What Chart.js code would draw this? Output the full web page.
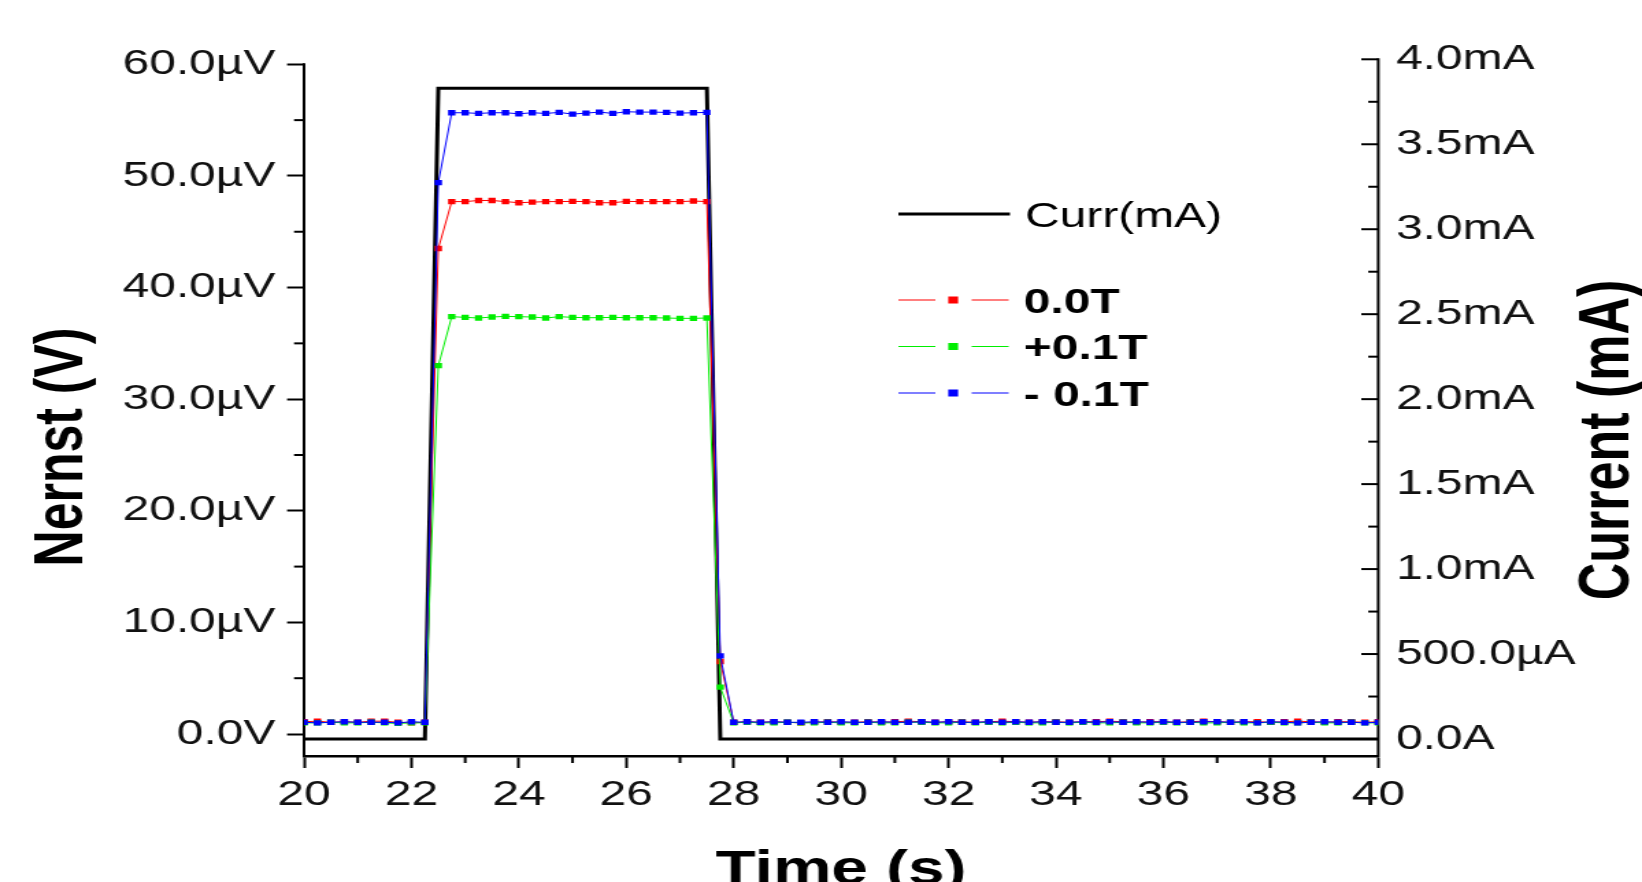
<!DOCTYPE html>
<html>
<head>
<meta charset="utf-8">
<title>Nernst signal vs. time</title>
<script src="https://cdn.jsdelivr.net/npm/chart.js@4.4.1/dist/chart.umd.min.js"></script>
<style>
  html, body { margin: 0; padding: 0; background: #fff; overflow: hidden; }
  /* the plot is laid out on a 1199px-wide canvas and widened to the full page */
  #stage { position: absolute; left: 0; top: 0; width: 1199px; height: 882px;
           transform: scaleX(1.36947); transform-origin: 0 0; }
</style>
</head>
<body>
<div id="stage"><canvas id="chart" width="1199" height="882"></canvas></div>
<script>
// ---- sampling times (s) ----
const time = [
  20, 20.25, 20.5, 20.75, 21, 21.25, 21.5, 21.75, 22, 22.25,
  22.5, 22.75, 23, 23.25, 23.5, 23.75, 24, 24.25, 24.5, 24.75,
  25, 25.25, 25.5, 25.75, 26, 26.25, 26.5, 26.75, 27, 27.25,
  27.5, 27.75, 28, 28.25, 28.5, 28.75, 29, 29.25, 29.5, 29.75,
  30, 30.25, 30.5, 30.75, 31, 31.25, 31.5, 31.75, 32, 32.25,
  32.5, 32.75, 33, 33.25, 33.5, 33.75, 34, 34.25, 34.5, 34.75,
  35, 35.25, 35.5, 35.75, 36, 36.25, 36.5, 36.75, 37, 37.25,
  37.5, 37.75, 38, 38.25, 38.5, 38.75, 39, 39.25, 39.5, 39.75,
  40
];

// ---- heater current (mA) ----
const currentMA = [
  0, 0, 0, 0, 0, 0, 0, 0, 0, 0,
  3.83, 3.83, 3.83, 3.83, 3.83, 3.83, 3.83, 3.83, 3.83, 3.83,
  3.83, 3.83, 3.83, 3.83, 3.83, 3.83, 3.83, 3.83, 3.83, 3.83,
  3.83, 0, 0, 0, 0, 0, 0, 0, 0, 0,
  0, 0, 0, 0, 0, 0, 0, 0, 0, 0,
  0, 0, 0, 0, 0, 0, 0, 0, 0, 0,
  0, 0, 0, 0, 0, 0, 0, 0, 0, 0,
  0, 0, 0, 0, 0, 0, 0, 0, 0, 0,
  0
];

// ---- Nernst voltage (µV) at 0.0 T ----
const nernst00T = [
  1.1, 1.15, 1.05, 1.1, 1.05, 1.15, 1.15, 1.05, 1.0, 1.05,
  43.5, 47.7, 47.7, 47.8, 47.8, 47.7, 47.6, 47.65, 47.7, 47.7,
  47.72, 47.7, 47.6, 47.6, 47.72, 47.7, 47.7, 47.7, 47.7, 47.75,
  47.7, 6.5, 1.05, 1.1, 1.05, 1.1, 1.05, 1.0, 1.05, 1.1,
  1.05, 1.05, 1.1, 1.05, 1.1, 1.15, 1.1, 1.05, 1.1, 1.1,
  1.05, 1.1, 1.15, 1.1, 1.05, 1.1, 1.1, 1.05, 1.1, 1.1,
  1.15, 1.1, 1.05, 1.1, 1.1, 1.05, 1.1, 1.15, 1.1, 1.05,
  1.1, 1.1, 1.05, 1.1, 1.15, 1.1, 1.05, 1.1, 1.1, 1.05,
  1.1
];

// ---- Nernst voltage (µV) at +0.1 T ----
const nernstPlus01T = [
  1.0, 1.0, 1.05, 1.0, 1.0, 1.05, 1.0, 0.95, 1.0, 1.0,
  33.0, 37.39, 37.33, 37.27, 37.36, 37.42, 37.39, 37.36, 37.27, 37.39,
  37.33, 37.3, 37.3, 37.33, 37.3, 37.3, 37.3, 37.27, 37.24, 37.24,
  37.27, 4.2, 1.0, 1.05, 1.0, 1.0, 1.05, 1.0, 1.0, 1.05,
  1.0, 1.0, 1.05, 1.0, 1.0, 1.05, 1.05, 1.0, 1.0, 1.05,
  1.0, 1.05, 1.0, 1.05, 1.0, 1.0, 1.05, 1.0, 1.05, 1.0,
  1.0, 1.05, 1.0, 1.0, 1.05, 1.0, 1.05, 1.0, 1.0, 1.05,
  1.0, 1.0, 1.05, 1.0, 1.0, 1.05, 1.0, 1.0, 1.05, 1.0,
  1.0
];

// ---- Nernst voltage (µV) at -0.1 T ----
const nernstMinus01T = [
  1.05, 1.0, 1.05, 1.1, 1.05, 1.05, 1.05, 1.0, 1.1, 1.05,
  49.4, 55.66, 55.66, 55.6, 55.66, 55.66, 55.57, 55.66, 55.6, 55.69,
  55.54, 55.63, 55.72, 55.6, 55.75, 55.72, 55.72, 55.69, 55.63, 55.66,
  55.69, 7.0, 1.05, 1.1, 1.05, 1.1, 1.05, 1.05, 1.1, 1.05,
  1.1, 1.05, 1.05, 1.1, 1.05, 1.05, 1.1, 1.05, 1.1, 1.05,
  1.05, 1.1, 1.05, 1.1, 1.05, 1.1, 1.05, 1.05, 1.1, 1.05,
  1.1, 1.05, 1.1, 1.05, 1.1, 1.05, 1.05, 1.1, 1.1, 1.05,
  1.1, 1.0, 1.1, 1.05, 1.0, 1.05, 1.1, 1.05, 1.05, 1.0,
  1.05
];

// ---- axis ticks and labels ----
const timeTicks = [20, 22, 24, 26, 28, 30, 32, 34, 36, 38, 40];
const timeLabels = ['20', '22', '24', '26', '28', '30', '32', '34', '36', '38', '40'];
const timeMinor = [21, 23, 25, 27, 29, 31, 33, 35, 37, 39];

const nernstTicks = [0, 10, 20, 30, 40, 50, 60];
const nernstLabels = ['0.0V', '10.0µV', '20.0µV', '30.0µV', '40.0µV', '50.0µV', '60.0µV'];
const nernstMinor = [5, 15, 25, 35, 45, 55];

const currentTicks = [0, 0.5, 1.0, 1.5, 2.0, 2.5, 3.0, 3.5, 4.0];
const currentLabels = ['0.0A', '500.0µA', '1.0mA', '1.5mA', '2.0mA', '2.5mA', '3.0mA', '3.5mA', '4.0mA'];
const currentMinor = [0.25, 0.75, 1.25, 1.75, 2.25, 2.75, 3.25, 3.75];

const seriesNames = ['Curr(mA)', '0.0T', '+0.1T', '- 0.1T'];

// ---------------------------------------------------------------
const FONT = "'Liberation Sans', Arial, Helvetica, sans-serif";

const toXY = (ys) => ys.map((y, i) => ({ x: time[i], y }));

function fixedTicks(values) {
  return (scale) => { scale.ticks = values.map((v) => ({ value: v })); };
}

// axis lines, minor ticks, inward ticks of the current axis, titles and the key
const frame = {
  id: 'frame',
  beforeDatasetsDraw(chart) {
    const { ctx, chartArea: a, scales } = chart;
    const x = scales.x, yN = scales.yN, yI = scales.yI;
    const seg = (x1, y1, x2, y2) => { ctx.beginPath(); ctx.moveTo(x1, y1); ctx.lineTo(x2, y2); ctx.stroke(); };
    ctx.save();
    ctx.strokeStyle = '#000';
    ctx.lineCap = 'butt';

    // Nernst axis
    ctx.lineWidth = 2;
    seg(a.left, yN.getPixelForValue(nernstTicks[nernstTicks.length - 1]) - 1, a.left, a.bottom + 1);
    for (const v of nernstMinor) {
      const py = yN.getPixelForValue(v);
      seg(a.left - 7.3, py, a.left, py);
    }

    // current axis (ticks point into the plot)
    seg(a.right, yI.getPixelForValue(currentTicks[currentTicks.length - 1]) - 1, a.right, a.bottom + 1);
    for (const v of currentTicks) {
      const py = yI.getPixelForValue(v);
      seg(a.right - 12.4, py, a.right, py);
    }
    for (const v of currentMinor) {
      const py = yI.getPixelForValue(v);
      seg(a.right - 7.3, py, a.right, py);
    }

    // time axis minor ticks
    for (const v of timeMinor) {
      const px = x.getPixelForValue(v);
      seg(px, a.bottom, px, a.bottom + 7);
    }
    ctx.restore();
  },
  afterDraw(chart) {
    const { ctx, chartArea: a, data } = chart;
    ctx.save();
    ctx.fillStyle = '#000';

    // axis titles
    ctx.font = `bold 48px ${FONT}`;
    ctx.textAlign = 'center';
    ctx.textBaseline = 'alphabetic';
    ctx.fillText('Time (s)', (a.left + a.right) / 2, 884);

    ctx.textBaseline = 'middle';
    ctx.font = `bold 50px ${FONT}`;
    ctx.save();
    ctx.translate(46.5, 447);
    ctx.rotate(-Math.PI / 2);
    ctx.fillText('Nernst (V)', 0, 0);
    ctx.restore();
    ctx.font = `bold 52px ${FONT}`;
    ctx.save();
    ctx.translate(1175, 440);
    ctx.rotate(-Math.PI / 2);
    ctx.fillText('Current (mA)', 0, 0);
    ctx.restore();

    // key
    ctx.textAlign = 'left';
    const ds = data.datasets;
    const cur = ds[0];
    ctx.strokeStyle = cur.borderColor;
    ctx.lineWidth = 3;
    ctx.beginPath(); ctx.moveTo(656, 214); ctx.lineTo(737.5, 214); ctx.stroke();
    ctx.font = `35px ${FONT}`;
    ctx.fillText(cur.label, 748.5, 217);

    const rows = [300, 346.5, 393];
    ctx.font = `bold 35px ${FONT}`;
    for (let i = 1; i < ds.length; i++) {
      const d = ds[i], y = rows[i - 1];
      ctx.strokeStyle = d.borderColor;
      ctx.lineWidth = 1.2;
      ctx.beginPath();
      ctx.moveTo(656, y); ctx.lineTo(683, y);
      ctx.moveTo(709.5, y); ctx.lineTo(736.5, y);
      ctx.stroke();
      ctx.fillStyle = d.pointBackgroundColor;
      ctx.fillRect(696 - 3.6, y - 3.5, 7.2, 7);
      ctx.fillStyle = '#000';
      ctx.fillText(d.label, 747.5, y + 3);
    }
    ctx.restore();
  }
};

const nernstSet = (label, values, color, order) => ({
  label,
  data: toXY(values),
  yAxisID: 'yN',
  borderColor: color,
  backgroundColor: color,
  borderWidth: 1,
  pointStyle: 'rect',
  pointRadius: 3.8,
  pointBorderWidth: 0,
  pointBackgroundColor: color,
  tension: 0,
  order
});

new Chart(document.getElementById('chart'), {
  type: 'line',
  data: {
    datasets: [
      {
        label: seriesNames[0],
        data: toXY(currentMA),
        yAxisID: 'yI',
        borderColor: '#000000',
        backgroundColor: '#000000',
        borderWidth: 3,
        pointRadius: 0,
        tension: 0,
        order: 4
      },
      nernstSet(seriesNames[1], nernst00T, '#ff0000', 3),
      nernstSet(seriesNames[2], nernstPlus01T, '#00ee00', 2),
      nernstSet(seriesNames[3], nernstMinus01T, '#0000ff', 1)
    ]
  },
  options: {
    responsive: false,
    maintainAspectRatio: false,
    devicePixelRatio: 1,
    animation: false,
    events: [],
    layout: { padding: { top: 59.3, left: 0, right: 0, bottom: 0 } },
    plugins: { legend: { display: false }, tooltip: { enabled: false } },
    scales: {
      x: {
        type: 'linear',
        position: 'bottom',
        min: 20,
        max: 40,
        afterBuildTicks: fixedTicks(timeTicks),
        afterFit: (s) => { s.height = 126; },
        grid: { display: true, drawOnChartArea: false, drawTicks: true, tickLength: 12, tickWidth: 2, tickColor: '#000' },
        border: { display: true, color: '#000', width: 2.5 },
        ticks: {
          autoSkip: false,
          maxRotation: 0,
          padding: 6,
          color: '#111',
          font: { family: FONT, size: 35 },
          callback: (v) => timeLabels[timeTicks.indexOf(v)]
        }
      },
      yN: {
        type: 'linear',
        position: 'left',
        min: -1.97,
        max: 60.45,
        afterBuildTicks: fixedTicks(nernstTicks),
        afterFit: (s) => { s.width = 222; },
        grid: { display: true, drawOnChartArea: false, drawTicks: true, tickLength: 12.4, tickWidth: 2, tickColor: '#000' },
        border: { display: false },
        ticks: {
          autoSkip: false,
          padding: 8.5,
          color: '#111',
          font: { family: FONT, size: 35 },
          callback: (v) => nernstLabels[nernstTicks.indexOf(v)]
        }
      },
      yI: {
        type: 'linear',
        position: 'right',
        min: -0.1,
        max: 4.0,
        afterBuildTicks: fixedTicks(currentTicks),
        afterFit: (s) => { s.width = 192.6; },
        grid: { display: false, drawOnChartArea: false, drawTicks: false },
        border: { display: false },
        ticks: {
          autoSkip: false,
          padding: 13,
          color: '#111',
          font: { family: FONT, size: 35 },
          callback: (v) => currentLabels[currentTicks.indexOf(v)]
        }
      }
    }
  },
  plugins: [frame]
});
</script>
</body>
</html>
